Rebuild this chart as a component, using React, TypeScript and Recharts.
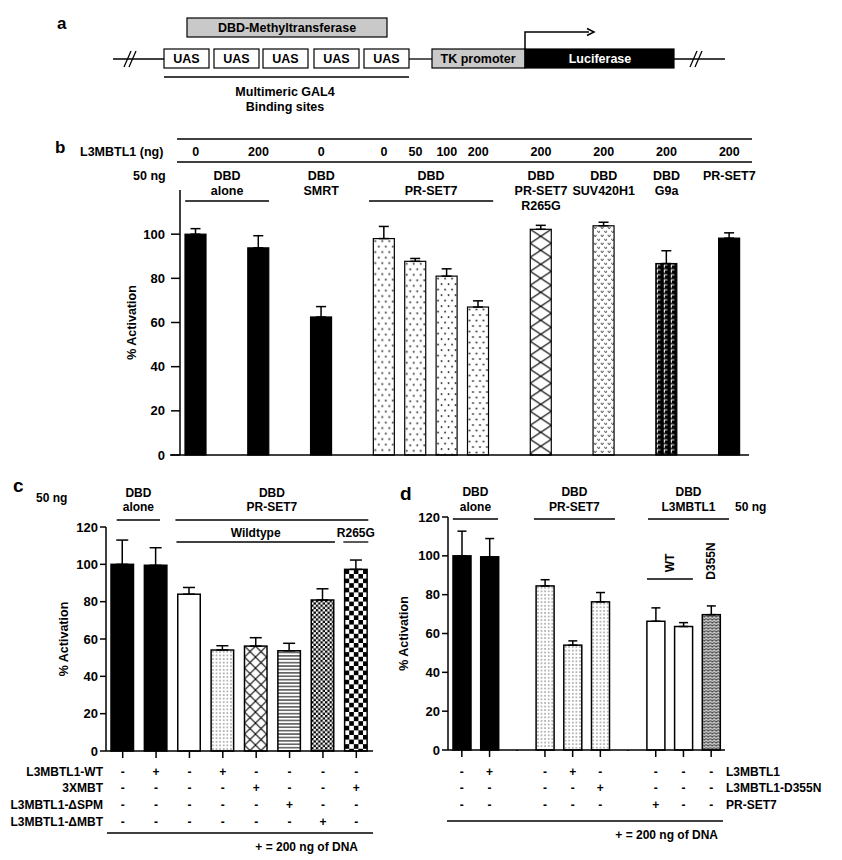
import React from "react";
import { BarChart, Bar, XAxis, YAxis, ErrorBar } from "recharts";

const FONT = "'Liberation Sans', Arial, Helvetica, sans-serif";

// ---- panel b data ----
const slotsB = [0, 2, 4, 6, 7, 8, 9, 11, 13, 15, 17];
const valuesB = [100, 93.8, 62.5, 98, 87.7, 81, 67, 102.2, 103.8, 86.7, 98.2];
const errB = [2.5, 5.5, 4.7, 5.5, 1.3, 3.3, 2.8, 1.8, 1.6, 5.8, 2.4];
const ngB = ["0", "200", "0", "0", "50", "100", "200", "200", "200", "200", "200"];
const fillB = ["black", "black", "black", "dots", "dots", "dots", "dots", "xhatch", "vee", "zig", "black"];
const groupTextB = [["DBD", "alone"], ["DBD", "SMRT"], ["DBD", "PR-SET7"], ["DBD", "PR-SET7", "R265G"], ["DBD", "SUV420H1"], ["DBD", "G9a"], ["PR-SET7"]];
const groupSpanB = [[0, 2], [4, 4], [6, 9], [11, 11], [13, 13], [15, 15], [17, 17]];
const underlineB = [true, false, true, false, false, false, false];

// ---- panel c data ----
const valuesC = [100, 99.5, 84, 54.1, 56.2, 53.7, 80.9, 97.3];
const errC = [13, 9.4, 3.6, 2.3, 4.5, 4, 6, 5];
const fillC = ["black", "black", "white", "fineDots", "xhatch2", "hlines", "fineCheck", "check"];
const rowLabelsC = ["L3MBTL1-WT", "3XMBT", "L3MBTL1-\u0394SPM", "L3MBTL1-\u0394MBT"];
const wtC = ["-", "+", "-", "+", "-", "-", "-", "-"];
const xmbtC = ["-", "-", "-", "-", "+", "-", "-", "+"];
const dspmC = ["-", "-", "-", "-", "-", "+", "-", "-"];
const dmbtC = ["-", "-", "-", "-", "-", "-", "+", "-"];
const groupTextC = [["DBD", "alone"], ["DBD", "PR-SET7"], ["Wildtype"], ["R265G"]];
const groupSpanC = [[0, 1], [2, 7], [2, 6], [7, 7]];

// ---- panel d data ----
const slotsD = [0, 1, 3, 4, 5, 7, 8, 9];
const valuesD = [100, 99.5, 84.5, 54, 76.3, 66.3, 63.6, 69.7];
const errD = [12.7, 9.4, 3.2, 2.2, 4.8, 6.9, 2, 4.5];
const fillD = ["black", "black", "fineDots", "fineDots", "fineDots", "white", "white", "wave"];
const rowLabelsD = ["L3MBTL1", "L3MBTL1-D355N", "PR-SET7"];
const l3D = ["-", "+", "-", "+", "-", "-", "-", "-"];
const d355D = ["-", "-", "-", "-", "+", "-", "-", "-"];
const prsetD = ["-", "-", "-", "-", "-", "+", "-", "-"];
const groupTextD = [["DBD", "alone"], ["DBD", "PR-SET7"], ["DBD", "L3MBTL1"]];
const groupSpanD = [[0, 1], [3, 5], [7, 9]];

const yTicksB = [0, 20, 40, 60, 80, 100];
const yTicksCD = [0, 20, 40, 60, 80, 100, 120];

function buildData(n: number, slots: number[], values: number[], errs: number[], fills: string[]) {
  const rows: any[] = Array.from({ length: n }, (_, i) => ({ slot: `s${i}`, value: null, err: null, kind: null }));
  slots.forEach((s, k) => {
    rows[s] = { slot: `s${s}`, value: values[k], err: [0, errs[k]], kind: fills[k] };
  });
  return rows;
}

const dataB = buildData(18, slotsB, valuesB, errB, fillB);
const dataC = buildData(8, [0, 1, 2, 3, 4, 5, 6, 7], valuesC, errC, fillC);
const dataD = buildData(10, slotsD, valuesD, errD, fillD);

// layout
const BAND_B = (745 - 180) / 18;
const BAND_C = (373 - 106) / 8;
const BAND_D = (335 - 58) / 10;

function Txt({ x, y, s, size = 12, anchor = "middle", rot, fill = "#000" }: any) {
  return (
    <text
      x={x}
      y={y}
      textAnchor={anchor}
      fontFamily={FONT}
      fontSize={size}
      fontWeight={700}
      fill={fill}
      transform={rot ? `rotate(${rot} ${x} ${y})` : undefined}
    >
      {s}
    </text>
  );
}

function patternFor(kind: string, id: string, x: number, y: number, w: number) {
  const c = { id, patternUnits: "userSpaceOnUse", x, y } as any;
  switch (kind) {
    case "dots":
      return (
        <pattern {...c} width={7} height={11}>
          <rect width={7} height={11} fill="#fff" />
          <circle cx={2} cy={2.5} r={0.9} fill="#222" />
          <circle cx={5.5} cy={8} r={0.9} fill="#222" />
        </pattern>
      );
    case "fineDots":
      return (
        <pattern {...c} width={3.6} height={3.6}>
          <rect width={3.6} height={3.6} fill="#fff" />
          <circle cx={1.8} cy={1.8} r={0.6} fill="#333" />
        </pattern>
      );
    case "xhatch":
      return (
        <pattern {...c} width={w} height={14}>
          <rect width={w} height={14} fill="#fff" />
          <path d={`M0 0 L${w} 14 M${w} 0 L0 14`} stroke="#000" strokeWidth={1.1} />
        </pattern>
      );
    case "xhatch2":
      return (
        <pattern {...c} width={11} height={11}>
          <rect width={11} height={11} fill="#fff" />
          <path d="M0 0 L11 11 M11 0 L0 11" stroke="#000" strokeWidth={1.1} />
        </pattern>
      );
    case "vee":
      return (
        <pattern {...c} width={7} height={8}>
          <rect width={7} height={8} fill="#fff" />
          <path d="M0.8 1 L2.2 3 L3.6 1 M4.3 5 L5.7 7 L7.1 5" stroke="#222" strokeWidth={0.9} fill="none" />
        </pattern>
      );
    case "zig":
      return (
        <pattern {...c} width={7} height={5}>
          <rect width={7} height={5} fill="#000" />
          <path d="M1.5 4.3 V1.3 H4.5" stroke="#fff" strokeWidth={1.1} fill="none" />
        </pattern>
      );
    case "hlines":
      return (
        <pattern {...c} width={4} height={3.4}>
          <rect width={4} height={3.4} fill="#fff" />
          <rect y={1.2} width={4} height={1} fill="#000" />
        </pattern>
      );
    case "fineCheck":
      return (
        <pattern {...c} width={4.6} height={4.6}>
          <rect width={4.6} height={4.6} fill="#fff" />
          <rect width={2.3} height={2.3} fill="#000" />
          <rect x={2.3} y={2.3} width={2.3} height={2.3} fill="#000" />
        </pattern>
      );
    case "check":
      return (
        <pattern {...c} width={9.2} height={9.2}>
          <rect width={9.2} height={9.2} fill="#fff" />
          <rect width={4.6} height={4.6} fill="#000" />
          <rect x={4.6} y={4.6} width={4.6} height={4.6} fill="#000" />
        </pattern>
      );
    case "wave":
      return (
        <pattern {...c} width={4} height={3}>
          <rect width={4} height={3} fill="#fff" />
          <path d="M0 0.6 L2 2.4 L4 0.6" stroke="#111" strokeWidth={1.1} fill="none" />
        </pattern>
      );
    default:
      return null;
  }
}

function PatternBar({ x, y, width, height, kind, uid, sw }: any) {
  if (!kind || !height || height <= 0) return <g />;
  let fill = "#fff";
  let defs = null;
  if (kind === "black") fill = "#000";
  else if (kind === "white") fill = "#fff";
  else {
    const pid = `pat-${uid}`;
    defs = <defs>{patternFor(kind, pid, x, y, width)}</defs>;
    fill = `url(#${pid})`;
  }
  return (
    <g>
      {defs}
      <rect x={x} y={y} width={width} height={height} fill={fill} stroke="#000" strokeWidth={sw} />
    </g>
  );
}

function idx(p: any) {
  return p.index ?? p.payload?.index ?? 0;
}

// ---- ticks / headers ----
function TickB(p: any) {
  const i = idx(p);
  const x = p.x;
  const k = slotsB.indexOf(i);
  const out: any[] = [];
  if (k >= 0) out.push(<Txt key="ng" x={x} y={36} s={ngB[k]} size={12.5} />);
  groupSpanB.forEach(([a, b], g) => {
    if (a !== i) return;
    let cx = x + ((b - a) * BAND_B) / 2;
    if (underlineB[g]) {
      const pad = g === 0 ? 10.5 : 15;
      const l = x - pad;
      const r = x + (b - a) * BAND_B + pad;
      cx = (l + r) / 2;
      out.push(<line key={`u${g}`} x1={l} x2={r} y1={81} y2={81} stroke="#000" strokeWidth={1.3} />);
    }
    groupTextB[g].forEach((s, j) =>
      out.push(<Txt key={`g${g}-${j}`} x={cx} y={60 + j * 15} s={s} size={12.5} />)
    );
  });
  if (i === 0) {
    const pl = x - BAND_B / 2;
    const pr = pl + 18 * BAND_B;
    out.push(<line key="h1" x1={pl - 3} x2={pr + 7} y1={19} y2={19} stroke="#000" strokeWidth={1.3} />);
    out.push(<line key="h2" x1={pl - 3} x2={pr + 7} y1={42} y2={42} stroke="#000" strokeWidth={1.3} />);
    out.push(<Txt key="lab" x={pl - 100} y={36} s="L3MBTL1 (ng)" size={12.5} anchor="start" />);
    out.push(<Txt key="ng50" x={pl - 47} y={60} s="50 ng" size={12.5} anchor="start" />);
    out.push(<Txt key="b" x={pl - 125} y={33} s="b" size={17} anchor="start" />);
    out.push(<line key="base" x1={pl - 10} x2={pr + 4} y1={335} y2={335} stroke="#000" strokeWidth={1.5} />);
    out.push(<Txt key="yl" x={136} y={202.5} s="% Activation" size={12.5} rot={-90} />);
  }
  return <g>{out}</g>;
}

const rowsC = [wtC, xmbtC, dspmC, dmbtC];
const rowYC = [306, 322, 339, 356];
const padC = [[-6, 4], [-14, 12], [-13, 12], [-13, 12]];
const lineYC = [50, 50, 72, 72];
const textYC = [27, 27, 67, 67];

function TickC(p: any) {
  const i = idx(p);
  const x = p.x;
  const out: any[] = [];
  rowsC.forEach((signs, r) => out.push(<Txt key={`r${r}`} x={x} y={rowYC[r]} s={signs[i]} size={12} />));
  groupSpanC.forEach(([a, b], g) => {
    if (a !== i) return;
    const l = x + padC[g][0];
    const r = x + (b - a) * BAND_C + padC[g][1];
    out.push(<line key={`u${g}`} x1={l} x2={r} y1={lineYC[g]} y2={lineYC[g]} stroke="#000" strokeWidth={1.3} />);
    groupTextC[g].forEach((s, j) =>
      out.push(<Txt key={`g${g}-${j}`} x={(l + r) / 2} y={textYC[g] + j * 14} s={s} size={12} />)
    );
  });
  if (i === 0) {
    const pl = x - BAND_C / 2;
    out.push(<Txt key="c" x={13} y={22} s="c" size={19} anchor="start" />);
    out.push(<Txt key="ng50" x={36} y={32} s="50 ng" size={12} anchor="start" />);
    rowLabelsC.forEach((s, r) =>
      out.push(<Txt key={`rl${r}`} x={pl - 3} y={rowYC[r]} s={s} size={12} anchor="end" />)
    );
    out.push(<line key="fl" x1={pl + 1} x2={pl + 8 * BAND_C} y1={363} y2={363} stroke="#000" strokeWidth={1.3} />);
    out.push(<Txt key="fn" x={pl + 252} y={381} s="+ = 200 ng of DNA" size={12} anchor="end" />);
    out.push(<Txt key="yl" x={68} y={169} s="% Activation" size={12.5} rot={-90} />);
  }
  return <g>{out}</g>;
}

const rowsD = [l3D, d355D, prsetD];
const rowYD = [306, 322, 339];
const padD = [[-9, 8.5], [-11, 14.6], [-7.75, 17.85]];

function TickD(p: any) {
  const i = idx(p);
  const x = p.x;
  const k = slotsD.indexOf(i);
  const out: any[] = [];
  if (k >= 0) {
    rowsD.forEach((signs, r) => out.push(<Txt key={`r${r}`} x={x} y={rowYD[r]} s={signs[k]} size={12} />));
  } else {
    // no tick mark under the empty gap slots
    out.push(<rect key="cover" x={x - 2} y={281} width={4} height={9} fill="#fff" />);
  }
  groupSpanD.forEach(([a, b], g) => {
    if (a !== i) return;
    const l = x + padD[g][0];
    const r = x + (b - a) * BAND_D + padD[g][1];
    out.push(<line key={`u${g}`} x1={l} x2={r} y1={49} y2={49} stroke="#000" strokeWidth={1.3} />);
    groupTextD[g].forEach((s, j) =>
      out.push(<Txt key={`g${g}-${j}`} x={(l + r) / 2} y={26 + j * 15} s={s} size={12} />)
    );
  });
  if (i === 7) {
    const l = x - 8.75;
    const r = x + BAND_D + 9.45;
    out.push(<line key="wtl" x1={l} x2={r} y1={109} y2={109} stroke="#000" strokeWidth={1.3} />);
    out.push(<Txt key="wt" x={(l + r) / 2 + 4} y={93} s="WT" size={12} rot={-90} />);
  }
  if (i === 9) out.push(<Txt key="d355" x={x + 4} y={91} s="D355N" size={12} rot={-90} />);
  if (i === 0) {
    const pl = x - BAND_D / 2;
    out.push(<Txt key="d" x={10} y={30} s="d" size={19} anchor="start" />);
    out.push(<Txt key="ng50" x={345} y={41} s="50 ng" size={12} anchor="start" />);
    rowLabelsD.forEach((s, r) =>
      out.push(<Txt key={`rl${r}`} x={336} y={rowYD[r]} s={s} size={12} anchor="start" />)
    );
    out.push(<line key="fl" x1={pl - 1} x2={pl + 275} y1={351} y2={351} stroke="#000" strokeWidth={1.3} />);
    out.push(<Txt key="fn" x={328} y={369} s="+ = 200 ng of DNA" size={12} anchor="end" />);
    out.push(<Txt key="yl" x={18} y={163.5} s="% Activation" size={12.5} rot={-90} />);
  }
  return <g>{out}</g>;
}

function PanelA() {
  const uasX = [164, 214, 263, 314, 364];
  const ln = { stroke: "#000", strokeWidth: 1.3 };
  return (
    <svg width={842} height={120} style={{ position: "absolute", left: 0, top: 0 }}>
      <Txt x={57} y={29} s="a" size={17} anchor="start" />
      <rect x={187} y={18} width={200} height={19} fill="#c9c9c9" stroke="#000" strokeWidth={1.2} />
      <Txt x={287} y={32} s="DBD-Methyltransferase" size={12.5} />
      <line x1={113} x2={164} y1={59} y2={59} {...ln} />
      <line x1={409} x2={432} y1={59} y2={59} {...ln} />
      <line x1={674} x2={725} y1={59} y2={59} {...ln} />
      <line x1={124} x2={131} y1={67} y2={51} {...ln} />
      <line x1={129} x2={136} y1={67} y2={51} {...ln} />
      <line x1={690} x2={697} y1={67} y2={51} {...ln} />
      <line x1={695} x2={702} y1={67} y2={51} {...ln} />
      {uasX.map((ux, i) => (
        <g key={i}>
          <rect x={ux} y={49} width={45} height={19} fill="#fff" stroke="#000" strokeWidth={1.2} />
          <Txt x={ux + 22.5} y={63} s="UAS" size={12.5} />
        </g>
      ))}
      <rect x={432} y={49} width={93} height={19} fill="#c9c9c9" stroke="#000" strokeWidth={1.2} />
      <Txt x={478} y={63} s="TK promoter" size={12.5} />
      <rect x={525} y={49} width={149} height={19} fill="#000" stroke="#000" strokeWidth={1.2} />
      <Txt x={600} y={63} s="Luciferase" size={12.5} fill="#fff" />
      <path d="M525 49 V32 H589" fill="none" stroke="#000" strokeWidth={1.5} />
      <path d="M587 28.5 L594 32 L587 35.5" fill="none" stroke="#000" strokeWidth={1.5} />
      <line x1={164} x2={409} y1={77} y2={77} {...ln} />
      <Txt x={285} y={96} s="Multimeric GAL4" size={12.5} />
      <Txt x={285} y={111} s="Binding sites" size={12.5} />
    </svg>
  );
}

const axisStyle = { stroke: "#000", strokeWidth: 1.5 };
const kindOf = (p: any) => p.payload?.kind ?? null;

export default function App() {
  return (
    <div style={{ position: "absolute", left: 0, top: 0, width: 842, height: 860, background: "#fff" }}>
      <PanelA />
      <div style={{ position: "absolute", left: 0, top: 120 }}>
        <BarChart width={842} height={350} data={dataB} margin={{ top: 70, right: 97, bottom: 0, left: 135 }}>
          <XAxis dataKey="slot" height={15} axisLine={false} tickLine={false} interval={0} tick={TickB} />
          <YAxis
            domain={[0, 120]}
            ticks={yTicksB}
            width={45}
            axisLine={axisStyle}
            tickLine={axisStyle}
            tickSize={9}
            tickMargin={6}
            tick={{ fontFamily: FONT, fontSize: 13, fontWeight: 700, fill: "#000" }}
          />
          <Bar
            dataKey="value"
            barSize={21}
            isAnimationActive={false}
            shape={(p: any) => <PatternBar {...p} kind={kindOf(p)} uid={`b${p.x}`} sw={1.2} />}
          >
            <ErrorBar dataKey="err" width={5} stroke="#000" strokeWidth={1.5} direction="y" />
          </Bar>
        </BarChart>
      </div>
      <div style={{ position: "absolute", left: 0, top: 470 }}>
        <BarChart width={390} height={390} data={dataC} margin={{ top: 57, right: 17, bottom: 9, left: 61 }}>
          <XAxis dataKey="slot" height={100} axisLine={axisStyle} tickLine={axisStyle} tickSize={7} interval={0} tick={TickC} />
          <YAxis
            domain={[0, 120]}
            ticks={yTicksCD}
            width={45}
            axisLine={axisStyle}
            tickLine={axisStyle}
            tickSize={6}
            tickMargin={2}
            tick={{ fontFamily: FONT, fontSize: 13, fontWeight: 700, fill: "#000" }}
          />
          <Bar
            dataKey="value"
            barSize={22.5}
            isAnimationActive={false}
            shape={(p: any) => <PatternBar {...p} kind={kindOf(p)} uid={`c${p.x}`} sw={1.5} />}
          >
            <ErrorBar dataKey="err" width={6} stroke="#000" strokeWidth={1.5} direction="y" />
          </Bar>
        </BarChart>
      </div>
      <div style={{ position: "absolute", left: 390, top: 470 }}>
        <BarChart width={452} height={390} data={dataD} margin={{ top: 47, right: 117, bottom: 10, left: 28 }}>
          <XAxis dataKey="slot" height={100} axisLine={axisStyle} tickLine={axisStyle} tickSize={7} interval={0} tick={TickD} />
          <YAxis
            domain={[0, 120]}
            ticks={yTicksCD}
            width={30}
            axisLine={axisStyle}
            tickLine={axisStyle}
            tickSize={6}
            tickMargin={2}
            tick={{ fontFamily: FONT, fontSize: 13, fontWeight: 700, fill: "#000" }}
          />
          <Bar
            dataKey="value"
            barSize={18}
            isAnimationActive={false}
            shape={(p: any) => <PatternBar {...p} kind={kindOf(p)} uid={`d${p.x}`} sw={1.5} />}
          >
            <ErrorBar dataKey="err" width={4.5} stroke="#000" strokeWidth={1.5} direction="y" />
          </Bar>
        </BarChart>
      </div>
    </div>
  );
}
